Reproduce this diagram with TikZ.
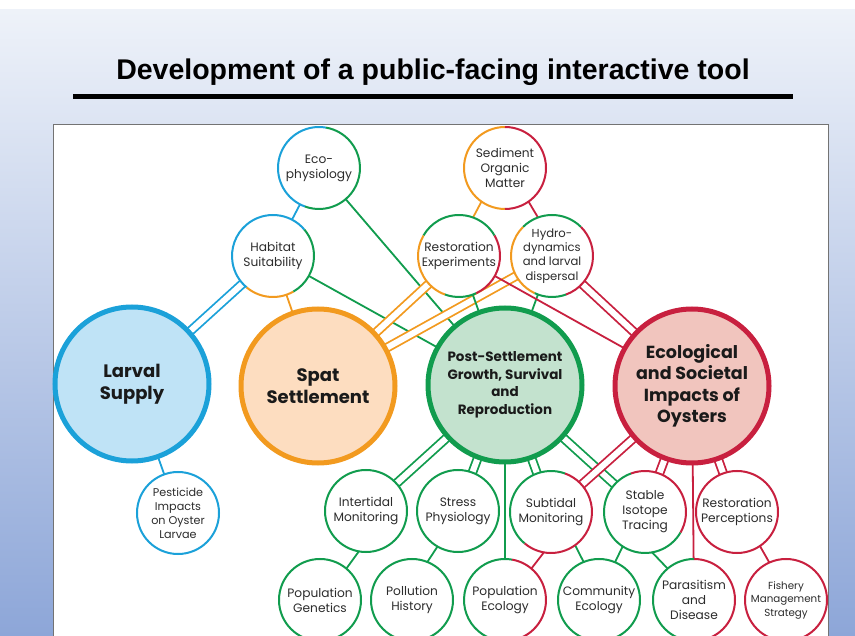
\documentclass[tikz,border=0pt]{standalone}
\usepackage{fontspec}
\setmainfont{Poppins}
\newfontfamily\titlefont{Liberation Sans}
\usetikzlibrary{calc}
\pgfdeclarelayer{back}
\pgfdeclarelayer{links}
\pgfsetlayers{back,links,main}

\definecolor{cblue}{HTML}{1BA1D9}
\definecolor{corange}{HTML}{F29A1F}
\definecolor{cgreen}{HTML}{119C4E}
\definecolor{cred}{HTML}{C8203F}
\definecolor{fblue}{HTML}{BFE3F6}
\definecolor{forange}{HTML}{FDDDC0}
\definecolor{fgreen}{HTML}{C3E2CE}
\definecolor{fred}{HTML}{F1C5BE}
\definecolor{bgtop}{HTML}{EEF2F9}
\definecolor{bgbot}{HTML}{8DA6D8}
\definecolor{inkdark}{HTML}{1A1A1A}
\definecolor{inksoft}{HTML}{2C2C2C}

% one coloured sector of a small ring: node, start angle, end angle, colour
\newcommand\ringpart[4]{%
  \draw[#4, line width=2pt] ($(#1.center)+(#2:41pt)$) arc[start angle=#2, end angle=#3, radius=41pt];}

\begin{document}
\begin{tikzpicture}[x=1pt,y=1pt,
  topic/.style={circle, minimum size=82pt, inner sep=0pt, outer sep=0pt,
    fill=white, align=center, text=inksoft,
    font=\fontsize{12.2}{15}\selectfont},
  hub/.style={circle, minimum size=154pt, inner sep=0pt, outer sep=0pt,
    line width=5pt, align=center, text=inkdark,
    font=\bfseries\fontsize{18}{22}\selectfont},
  link/.style={line width=1.8pt},
  pair/.style={line width=1.8pt, double=white, double distance=6pt},
]
\useasboundingbox (0,0) rectangle (855,-636);

% slide background, title rule and white panel
\begin{pgfonlayer}{back}
  \fill[white] (0,0) rectangle (855,-10);
  \shade[top color=bgtop, bottom color=bgbot] (0,-10) rectangle (855,-636);
  \draw[line width=5pt, black] (73,-97) -- (793,-97);
  \draw[draw=black!55, fill=white, line width=1pt] (53,-125) rectangle (828,-645);
\end{pgfonlayer}
\node[inner sep=0pt] (title) at (433,-72)
  {\titlefont\bfseries\fontsize{28.5}{30}\selectfont Development of a public-facing interactive tool};

% four main themes
\node[hub, draw=cblue, fill=fblue] (larval) at (132,-384) {Larval\\Supply};
\node[hub, draw=corange, fill=forange] (spat) at (318,-386) {Spat\\Settlement};
\node[hub, draw=cgreen, fill=fgreen, font=\bfseries\fontsize{13.5}{17.5}\selectfont] (post) at (505,-385)
  {Post-Settlement\\Growth, Survival\\and\\Reproduction};
\node[hub, draw=cred, fill=fred, font=\bfseries\fontsize{17.5}{21.5}\selectfont] (impacts) at (692,-386)
  {Ecological\\and Societal\\Impacts of\\Oysters};

% research topics
\node[topic] (ecophys) at (319,-168) {Eco-\\physiology};
\node[topic] (sediment) at (505,-168) {Sediment\\Organic\\Matter};
\node[topic] (habitat) at (273,-256) {Habitat\\Suitability};
\node[topic] (restexp) at (459,-256) {Restoration\\Experiments};
\node[topic, font=\fontsize{11.6}{14.3}\selectfont] (hydro) at (552,-256) {Hydro-\\dynamics\\and larval\\dispersal};
\node[topic, font=\fontsize{11.2}{14}\selectfont] (pesticide) at (178,-513) {Pesticide\\Impacts\\on Oyster\\Larvae};
\node[topic] (intertidal) at (366,-511) {Intertidal\\Monitoring};
\node[topic] (stress) at (458,-511) {Stress\\Physiology};
\node[topic] (subtidal) at (551,-512) {Subtidal\\Monitoring};
\node[topic] (stable) at (645,-512) {Stable\\Isotope\\Tracing};
\node[topic] (restperc) at (737,-512) {Restoration\\Perceptions};
\node[topic] (popgen) at (320,-600) {Population\\Genetics};
\node[topic] (pollution) at (412,-600) {Pollution\\History};
\node[topic] (popeco) at (505,-600) {Population\\Ecology};
\node[topic] (community) at (599,-600) {Community\\Ecology};
\node[topic] (parasitism) at (694,-600) {Parasitism\\and\\Disease};
\node[topic, font=\fontsize{10.3}{13.5}\selectfont] (fishery) at (786,-600) {Fishery\\Management\\Strategy};

% ring outlines, coloured by the themes they feed
\ringpart{ecophys}{80}{250}{cblue}
\ringpart{ecophys}{250}{440}{cgreen}
\ringpart{sediment}{90}{270}{corange}
\ringpart{sediment}{-90}{90}{cred}
\ringpart{habitat}{40}{230}{cblue}
\ringpart{habitat}{230}{300}{corange}
\ringpart{habitat}{300}{400}{cgreen}
\ringpart{restexp}{30}{150}{cgreen}
\ringpart{restexp}{150}{250}{corange}
\ringpart{restexp}{250}{295}{cgreen}
\ringpart{restexp}{295}{390}{cred}
\ringpart{hydro}{45}{135}{cgreen}
\ringpart{hydro}{135}{245}{corange}
\ringpart{hydro}{245}{290}{cgreen}
\ringpart{hydro}{290}{405}{cred}
\ringpart{pesticide}{0}{360}{cblue}
\ringpart{intertidal}{0}{360}{cgreen}
\ringpart{stress}{0}{360}{cgreen}
\ringpart{subtidal}{70}{230}{cgreen}
\ringpart{subtidal}{230}{430}{cred}
\ringpart{stable}{110}{330}{cgreen}
\ringpart{stable}{330}{470}{cred}
\ringpart{restperc}{0}{360}{cred}
\ringpart{popgen}{0}{360}{cgreen}
\ringpart{pollution}{0}{360}{cgreen}
\ringpart{popeco}{80}{280}{cgreen}
\ringpart{popeco}{280}{440}{cred}
\ringpart{community}{0}{360}{cgreen}
\ringpart{parasitism}{90}{270}{cgreen}
\ringpart{parasitism}{270}{450}{cred}
\ringpart{fishery}{0}{360}{cred}

% connectors
\begin{pgfonlayer}{links}
  \draw[link, cblue] (ecophys) -- (habitat);
  \draw[link, cgreen] (ecophys) -- (post);
  \draw[pair, cblue] (habitat) -- (larval);
  \draw[link, corange] (habitat) -- (spat);
  \draw[link, cgreen] (habitat) -- (post);
  \draw[link, corange] (sediment.235) -- (restexp.70);
  \draw[link, cred] (sediment.-55) -- (hydro.110);
  \draw[pair, corange] (restexp) -- (spat);
  \draw[pair, corange] (hydro) -- (spat);
  \draw[link, cgreen] (restexp) -- (post);
  \draw[link, cgreen] (hydro) -- (post);
  \draw[link, cred] (restexp) -- (impacts);
  \draw[pair, cred] (hydro) -- (impacts);
  \draw[link, cblue] (larval) -- (pesticide);
  \draw[pair, cgreen] (post) -- (intertidal);
  \draw[pair, cgreen] (post) -- (stress);
  \draw[link, cgreen] (post) -- (popeco);
  \draw[pair, cgreen] (post) -- (subtidal);
  \draw[pair, cgreen] (post) -- (stable);
  \draw[pair, cred] (impacts) -- (subtidal);
  \draw[pair, cred] (impacts) -- (stable);
  \draw[link, cred] (impacts) -- (parasitism);
  \draw[pair, cred] (impacts) -- (restperc);
  \draw[link, cgreen] (intertidal.-100) -- (popgen.50);
  \draw[link, cgreen] (stress.-120) -- (pollution.68);
  \draw[link, cred] (subtidal.-100) -- (popeco.50);
  \draw[link, cgreen] (subtidal.-54) -- (community.112);
  \draw[link, cgreen] (stable.-123) -- (community.67);
  \draw[link, cgreen] (stable.-80) -- (parasitism.130);
  \draw[link, cred] (restperc.-56) -- (fishery.114);
\end{pgfonlayer}
\end{tikzpicture}
\end{document}
